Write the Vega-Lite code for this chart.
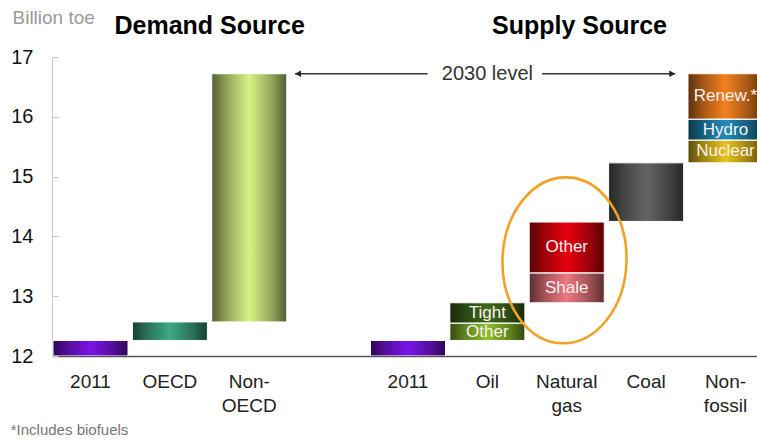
{
  "$schema": "https://vega.github.io/schema/vega-lite/v6.json",
  "width": 705,
  "height": 299,
  "autosize": {"type": "none"},
  "padding": {"left": 52, "top": 57, "right": 0, "bottom": 87},
  "background": "white",
  "config": {
    "view": {"stroke": null},
    "font": "Liberation Sans",
    "axisX": {
      "domainColor": "#555555", "domainWidth": 1.5, "ticks": false, "grid": false,
      "labelFontSize": 19, "labelColor": "#222222", "labelPadding": 16, "labelLineHeight": 24,
      "labelFont": "Liberation Sans", "labelAngle": 0
    },
    "axisY": {
      "domainColor": "#c8c8c8", "tickColor": "#c8c8c8", "tickSize": -6, "grid": false,
      "labelFontSize": 20, "labelColor": "#111111", "labelPadding": 25, "labelFont": "Liberation Sans"
    }
  },
  "title": {
    "text": "*Includes biofuels", "orient": "bottom", "anchor": "start", "frame": "bounds",
    "fontSize": 15, "fontWeight": "normal", "color": "#777777", "font": "Liberation Sans", "offset": 8
  },
  "datasets": {
    "bars": [
      {"cat": "d2011", "seg": "d2011", "lo": 12, "hi": 12.26},
      {"cat": "OECD", "seg": "OECD", "lo": 12.26, "hi": 12.57},
      {"cat": "NonOECD", "seg": "NonOECD", "lo": 12.57, "hi": 16.72},
      {"cat": "s2011", "seg": "s2011", "lo": 12, "hi": 12.26},
      {"cat": "Oil", "seg": "OilOther", "lo": 12.26, "hi": 12.55, "label": "Other"},
      {"cat": "Oil", "seg": "Tight", "lo": 12.55, "hi": 12.89, "label": "Tight"},
      {"cat": "Gas", "seg": "Shale", "lo": 12.89, "hi": 13.39, "label": "Shale"},
      {"cat": "Gas", "seg": "GasOther", "lo": 13.39, "hi": 14.24, "label": "Other"},
      {"cat": "Coal", "seg": "Coal", "lo": 14.25, "hi": 15.23},
      {"cat": "NonFossil", "seg": "Nuclear", "lo": 15.23, "hi": 15.61, "label": "Nuclear"},
      {"cat": "NonFossil", "seg": "Hydro", "lo": 15.61, "hi": 15.96, "label": "Hydro"},
      {"cat": "NonFossil", "seg": "Renew", "lo": 15.96, "hi": 16.72, "label": "Renew.*"}
    ]
  },
  "data": {"name": "bars"},
  "layer": [
    {
      "mark": {"type": "bar", "clip": true},
      "encoding": {
        "x": {
          "field": "cat", "type": "nominal",
          "scale": {
            "domain": ["d2011", "OECD", "NonOECD", "gap", "s2011", "Oil", "Gas", "Coal", "NonFossil"],
            "range": [0, 712], "paddingInner": 0.055, "paddingOuter": 0.0126
          },
          "axis": {
            "title": null,
            "labelExpr": "{'d2011':'2011','OECD':'OECD','NonOECD':['Non-','OECD'],'gap':'','s2011':'2011','Oil':'Oil','Gas':['Natural','gas'],'Coal':'Coal','NonFossil':['Non-','fossil']}[datum.value]"
          }
        },
        "y": {
          "field": "lo", "type": "quantitative",
          "scale": {"domain": [12, 17], "nice": false, "zero": false},
          "axis": {
            "values": [12, 13, 14, 15, 16, 17], "format": "d",
            "title": "Billion toe", "titleAngle": 0, "titleAlign": "left", "titleBaseline": "alphabetic",
            "titleX": -40, "titleY": -34, "titleFontSize": 19, "titleFontWeight": "normal",
            "titleColor": "#9a9a9a", "titleFont": "Liberation Sans"
          }
        },
        "y2": {"field": "hi"},
        "color": {
          "field": "seg", "type": "nominal", "legend": null,
          "scale": {
            "domain": ["d2011", "OECD", "NonOECD", "s2011", "OilOther", "Tight", "Shale", "GasOther", "Coal", "Nuclear", "Hydro", "Renew"],
            "range": ["#7a14e6", "#3ea883", "#d8f285", "#7a14e6", "#8cc02a", "#3e6a1c", "#ec7880", "#e8000e", "#646464", "#e8c21a", "#1f8cb8", "#f3801e"]
          }
        }
      }
    },
    {
      "mark": {
        "type": "bar", "clip": true, "stroke": "#ffffff", "strokeWidth": 1,
        "fill": {
          "gradient": "linear", "x1": 0, "x2": 1, "y1": 0, "y2": 0,
          "stops": [
            {"offset": 0, "color": "rgba(0,0,0,0.62)"},
            {"offset": 0.2, "color": "rgba(0,0,0,0.32)"},
            {"offset": 0.5, "color": "rgba(0,0,0,0)"},
            {"offset": 0.8, "color": "rgba(0,0,0,0.32)"},
            {"offset": 1, "color": "rgba(0,0,0,0.62)"}
          ]
        }
      },
      "encoding": {
        "x": {"field": "cat", "type": "nominal"},
        "y": {"field": "lo", "type": "quantitative"},
        "y2": {"field": "hi"}
      }
    },
    {
      "transform": [
        {"filter": "isValid(datum.label)"},
        {"calculate": "(datum.lo + datum.hi) / 2", "as": "mid"}
      ],
      "mark": {"type": "text", "clip": true, "color": "#fbf0f0", "fontSize": 17, "baseline": "middle", "font": "Liberation Sans"},
      "encoding": {
        "x": {"field": "cat", "type": "nominal"},
        "y": {"field": "mid", "type": "quantitative"},
        "text": {"field": "label"}
      }
    },
    {
      "data": {"values": [{"t": "Demand Source"}]},
      "mark": {"type": "text", "fontSize": 25, "fontWeight": "bold", "color": "#000000", "baseline": "alphabetic", "align": "center"},
      "encoding": {
        "x": {"datum": "OECD", "bandPosition": 1.03},
        "y": {"datum": 17.38},
        "text": {"field": "t"}
      }
    },
    {
      "data": {"values": [{"t": "Supply Source"}]},
      "mark": {"type": "text", "fontSize": 25, "fontWeight": "bold", "color": "#000000", "baseline": "alphabetic", "align": "center"},
      "encoding": {
        "x": {"datum": "Gas", "bandPosition": 0.67},
        "y": {"datum": 17.38},
        "text": {"field": "t"}
      }
    },
    {
      "data": {"values": [{"t": "2030 level"}]},
      "mark": {"type": "text", "fontSize": 20, "color": "#333333", "baseline": "middle", "align": "center"},
      "encoding": {
        "x": {"datum": "Oil", "bandPosition": 0.5},
        "y": {"datum": 16.72},
        "text": {"field": "t"}
      }
    },
    {
      "data": {"values": [{"part": "left"}]},
      "mark": {"type": "rule", "color": "#333333", "strokeWidth": 1.5},
      "encoding": {
        "x": {"datum": "NonOECD", "bandPosition": 1.11},
        "x2": {"datum": "s2011", "bandPosition": 0.76},
        "y": {"datum": 16.72}
      }
    },
    {
      "data": {"values": [{"part": "right"}]},
      "mark": {"type": "rule", "color": "#333333", "strokeWidth": 1.5},
      "encoding": {
        "x": {"datum": "Gas", "bandPosition": 0.17},
        "x2": {"datum": "NonFossil", "bandPosition": -0.17},
        "y": {"datum": 16.72}
      }
    },
    {
      "data": {"values": [{"part": "leftHead"}]},
      "mark": {"type": "point", "shape": "triangle-left", "filled": true, "color": "#222222", "size": 45, "opacity": 1},
      "encoding": {
        "x": {"datum": "NonOECD", "bandPosition": 1.15},
        "y": {"datum": 16.72}
      }
    },
    {
      "data": {"values": [{"part": "rightHead"}]},
      "mark": {"type": "point", "shape": "triangle-right", "filled": true, "color": "#222222", "size": 45, "opacity": 1},
      "encoding": {
        "x": {"datum": "NonFossil", "bandPosition": -0.21},
        "y": {"datum": 16.72}
      }
    },
    {
      "data": {"values": [{"part": "highlight"}]},
      "mark": {
        "type": "point", "filled": false, "stroke": "#f2a126", "strokeWidth": 2.6, "opacity": 1,
        "size": 27556, "angle": 2,
        "shape": "M -0.747,0 A 0.747,1 0 1,1 0.747,0 A 0.747,1 0 1,1 -0.747,0 Z"
      },
      "encoding": {
        "x": {"datum": "Gas", "bandPosition": 0.47},
        "y": {"datum": 13.6}
      }
    }
  ]
}
